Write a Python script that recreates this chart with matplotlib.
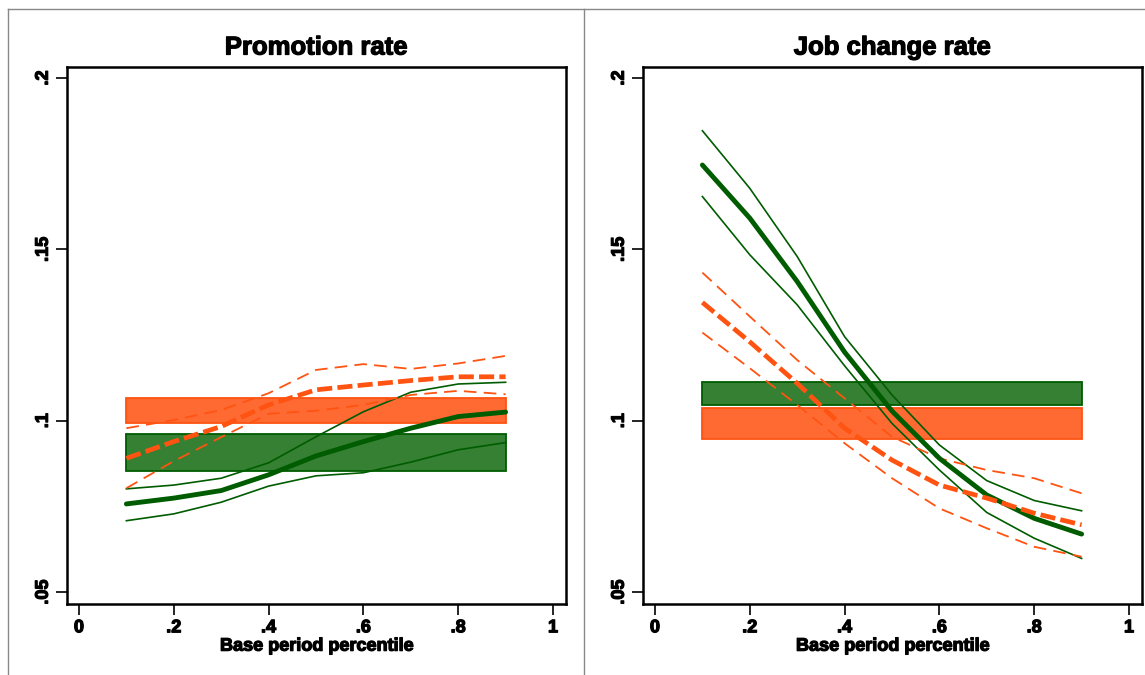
import matplotlib
matplotlib.use("Agg")
import matplotlib.pyplot as plt
import matplotlib.patheffects as pe
from matplotlib.lines import Line2D
from matplotlib.patches import Rectangle

plt.rcParams['font.family'] = ['Liberation Sans', 'DejaVu Sans']
plt.rcParams['font.weight'] = 'bold'

# ---------------- data ----------------
pct = [0.1, 0.2, 0.3, 0.4, 0.5, 0.6, 0.7, 0.8, 0.9]

# Promotion rate
promo_green = [0.0757, 0.0774, 0.0796, 0.0842, 0.0897, 0.0939, 0.0978, 0.1012, 0.1025]
promo_green_hi = [0.0801, 0.0812, 0.0832, 0.0877, 0.0953, 0.1026, 0.1083, 0.1107, 0.1112]
promo_green_lo = [0.0708, 0.0728, 0.0762, 0.0809, 0.0839, 0.0848, 0.0879, 0.0915, 0.0936]
promo_orange = [0.0890, 0.0939, 0.0983, 0.1046, 0.1090, 0.1104, 0.1117, 0.1128, 0.1128]
promo_orange_hi = [0.0978, 0.1002, 0.1031, 0.1080, 0.1148, 0.1165, 0.1151, 0.1167, 0.1189]
promo_orange_lo = [0.0803, 0.0882, 0.0952, 0.1020, 0.1029, 0.1046, 0.1075, 0.1087, 0.1077]
promo_green_band = (0.0853, 0.0960)
promo_orange_band = (0.0994, 0.1065)

# Job change rate
job_green = [0.1746, 0.1591, 0.1406, 0.1200, 0.1028, 0.0890, 0.0783, 0.0715, 0.0669]
job_green_hi = [0.1846, 0.1678, 0.1479, 0.1245, 0.1075, 0.0929, 0.0825, 0.0767, 0.0737]
job_green_lo = [0.1654, 0.1484, 0.1338, 0.1160, 0.0992, 0.0856, 0.0732, 0.0657, 0.0598]
job_orange = [0.1345, 0.1230, 0.1109, 0.0978, 0.0885, 0.0812, 0.0774, 0.0730, 0.0696]
job_orange_hi = [0.1432, 0.1304, 0.1177, 0.1065, 0.0953, 0.0890, 0.0856, 0.0832, 0.0788]
job_orange_lo = [0.1257, 0.1153, 0.1046, 0.0934, 0.0832, 0.0744, 0.0686, 0.0632, 0.0603]
job_green_band = (0.1046, 0.1112)
job_orange_band = (0.0947, 0.1036)

titles = ["Promotion rate", "Job change rate"]
xticks = [0, 0.2, 0.4, 0.6, 0.8, 1.0]
xticklabels = ["0", ".2", ".4", ".6", ".8", "1"]
yticks = [0.05, 0.10, 0.15, 0.20]
yticklabels = [".05", ".1", ".15", ".2"]
xlabel = "Base period percentile"

# ---------------- style ----------------
GREEN_LINE = "#005c00"
GREEN_FILL = "#358032"
ORANGE_LINE = "#ff5311"
ORANGE_FILL = "#ff6a33"
HEAVY = [pe.withStroke(linewidth=0.9, foreground='black')]

W, H = 1145, 675
fig = plt.figure(figsize=(W / 100, H / 100), dpi=100)
fig.patch.set_facecolor("white")

def px_axes(x0, y0, x1, y1):
    return fig.add_axes([x0 / W, (H - y1) / H, (x1 - x0) / W, (y1 - y0) / H])

panels = [
    (px_axes(67, 67, 566, 604), promo_green, promo_green_hi, promo_green_lo,
     promo_orange, promo_orange_hi, promo_orange_lo, promo_green_band, promo_orange_band),
    (px_axes(643, 67, 1142, 604), job_green, job_green_hi, job_green_lo,
     job_orange, job_orange_hi, job_orange_lo, job_green_band, job_orange_band),
]

for i, (ax, g, ghi, glo, o, ohi, olo, gb, ob) in enumerate(panels):
    x0, x1 = pct[0], pct[-1]
    ax.add_patch(Rectangle((x0, ob[0]), x1 - x0, ob[1] - ob[0],
                           facecolor=ORANGE_FILL, edgecolor=ORANGE_LINE, lw=1.3, zorder=1))
    ax.add_patch(Rectangle((x0, gb[0]), x1 - x0, gb[1] - gb[0],
                           facecolor=GREEN_FILL, edgecolor=GREEN_LINE, lw=1.3, zorder=1))
    ax.plot(pct, ghi, color=GREEN_LINE, lw=1.2, zorder=3)
    ax.plot(pct, glo, color=GREEN_LINE, lw=1.2, zorder=3)
    ax.plot(pct, g, color=GREEN_LINE, lw=3.5, zorder=4, solid_capstyle='round')
    ax.plot(pct, ohi, color=ORANGE_LINE, lw=1.3, dashes=(7, 4), zorder=3)
    ax.plot(pct, olo, color=ORANGE_LINE, lw=1.3, dashes=(7, 4), zorder=3)
    ax.plot(pct, o, color=ORANGE_LINE, lw=3.4, dashes=(3.2, 1.1), zorder=4)

    ax.set_xlim(-0.0253, 1.0274)
    ax.set_ylim(0.0465, 0.2032)
    ax.set_xticks(xticks)
    ax.set_xticklabels(xticklabels, fontsize=13, fontweight='bold')
    ax.set_yticks(yticks)
    ax.set_yticklabels(yticklabels, fontsize=13, fontweight='bold',
                       rotation=90, va='center')
    for lab in ax.get_xticklabels() + ax.get_yticklabels():
        lab.set_path_effects(HEAVY)
    ax.tick_params(axis='both', direction='out', length=8, width=1.2, color='black', pad=3)
    for s in ax.spines.values():
        s.set_linewidth(1.8)
        s.set_color('black')
    xl = ax.set_xlabel(xlabel, fontsize=13, fontweight='bold', labelpad=1)
    xl.set_path_effects(HEAVY)
    t = ax.set_title(titles[i], fontsize=18.5, fontweight='bold', pad=9)
    t.set_path_effects(HEAVY)

# outer panel frames (gray)
fig.add_artist(Line2D([8 / W, 1.0], [1 - 9 / H, 1 - 9 / H], color="#888888", lw=1.0))
fig.add_artist(Line2D([8 / W, 8 / W], [0, 1 - 9 / H], color="#888888", lw=1.0))
fig.add_artist(Line2D([584 / W, 584 / W], [0, 1 - 9 / H], color="#888888", lw=1.0))

fig.savefig("out.png", dpi=100)
